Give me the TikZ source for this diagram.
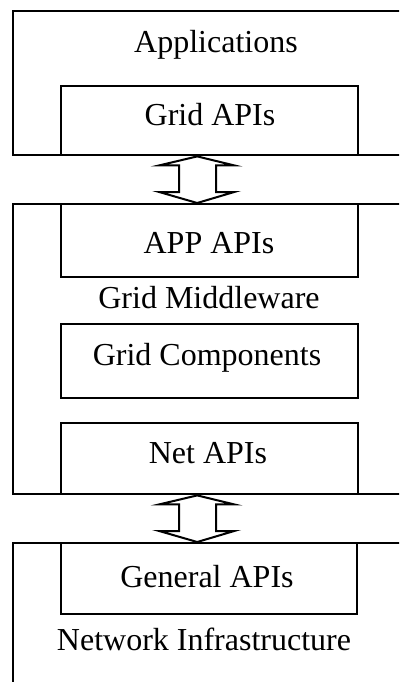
\documentclass[tikz,border=0pt]{standalone}
\usepackage{fontspec}
\setmainfont{Liberation Serif}
\usetikzlibrary{calc}
\tikzset{
  outerbox/.style={draw=black, line width=2.4pt, rectangle, inner sep=0pt, anchor=north west},
  innerbox/.style={draw=black, line width=2.4pt, rectangle, inner sep=0pt, anchor=north west},
  lbl/.style={anchor=base, inner sep=0pt, font=\fontsize{32}{38}\selectfont},
  arrowline/.style={draw=black, line width=2pt, line join=miter, fill=white}
}
\newcommand{\hollowarrow}[2]{%
  \draw[arrowline] (#1) -- ($(#1)+(37,-9)$) -- ($(#1)+(19,-9)$) -- ($(#2)+(19,11)$)
   -- ($(#2)+(37,11)$) -- (#2) -- ($(#2)+(-38,11)$) -- ($(#2)+(-18,11)$)
   -- ($(#1)+(-18,-9)$) -- ($(#1)+(-38,-9)$) -- cycle;}
\begin{document}
\begin{tikzpicture}[x=1pt,y=1pt]
\useasboundingbox (0,0) rectangle (399,-682);
\clip (0,0) rectangle (399,-682);
\fill[white] (0,0) rectangle (399,-682);
% outer layers
\node[outerbox, minimum width=410pt, minimum height=144pt] (applayer) at (12,-10) {};
\node[outerbox, minimum width=410pt, minimum height=290pt] (midlayer) at (12,-203) {};
\node[outerbox, minimum width=410pt, minimum height=170pt] (netlayer) at (12,-542) {};
% inner boxes
\node[innerbox, minimum width=297pt, minimum height=69pt] (gridapi) at (60,-85) {};
\node[innerbox, minimum width=297pt, minimum height=73pt] (appapi) at (60,-203) {};
\node[innerbox, minimum width=297pt, minimum height=74pt] (gridcomp) at (60,-323) {};
\node[innerbox, minimum width=297pt, minimum height=71pt] (netapi) at (60,-422) {};
\node[innerbox, minimum width=296pt, minimum height=71pt] (genapi) at (60,-542) {};
% texts
\node[lbl] (tapp) at (216,-53) {Applications};
\node[lbl] (tgridapi) at (210,-125) {Grid APIs};
\node[lbl] (tappapi) at (209,-253) {APP APIs};
\node[lbl] (tmid) at (209,-308) {Grid Middleware};
\node[lbl] (tgridcomp) at (207,-365) {Grid Components};
\node[lbl] (tnetapi) at (208,-463) {Net APIs};
\node[lbl] (tgenapi) at (207,-587) {General APIs};
\node[lbl] (tnet) at (204,-650) {Network Infrastructure};
% arrows
\coordinate (a1t) at ($(gridapi.south)+(-12.5,0)$);
\coordinate (a1b) at ($(appapi.north)+(-12.5,0)$);
\coordinate (a2t) at ($(netapi.south)+(-12.5,0)$);
\coordinate (a2b) at ($(genapi.north)+(-12,0)$);
\hollowarrow{a1t}{a1b}
\hollowarrow{a2t}{a2b}
\end{tikzpicture}
\end{document}
